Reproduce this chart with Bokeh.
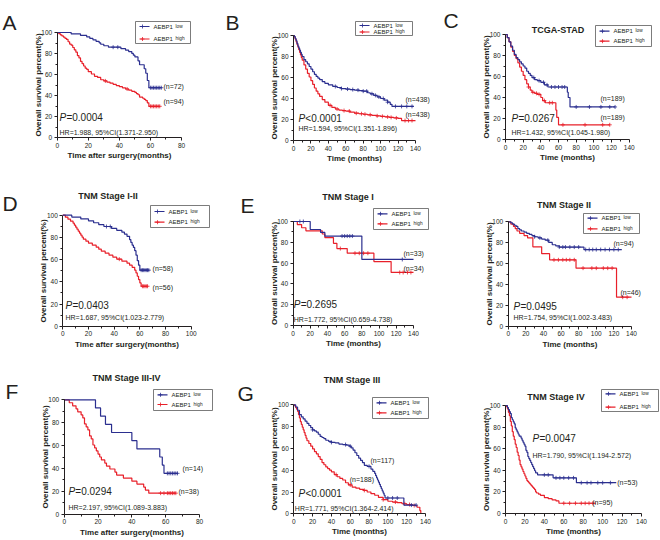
import numpy as np
from bokeh.plotting import figure
from bokeh.models import Range1d, FixedTicker, Label
from bokeh.layouts import column, row
from bokeh.embed import file_html
from bokeh.resources import INLINE

FONT = "Liberation Sans"
BLUE = "#2b2f8f"
RED = "#e8202a"
INK = "#231f20"

Y_TICKS = [0, 20, 40, 60, 80, 100]
Y_MINOR = [10, 30, 50, 70, 90]
X80 = [0, 20, 40, 60, 80]
X100 = [0, 20, 40, 60, 80, 100]
X140 = [0, 20, 40, 60, 80, 100, 120, 140]
XLAB_SURG = "Time after surgery(months)"
XLAB_TIME = "Time (months)"
YLAB = "Overall survival percent(%)"
GROUPS = ["low", "high"]

# ---------------- Panel A ----------------
A_low_t = [0, 9, 15, 19, 21, 23, 25, 27, 28, 30, 33, 41, 44, 46, 48, 49, 50, 52, 53, 56, 57, 58, 59]
A_low_s = [100, 98.6, 97.2, 95.8, 94.4, 93.0, 91.6, 90.2, 88.8, 87.4, 86.0, 84.6, 83.2, 81.8, 80.1, 78.4, 76.7, 73.0, 69.3, 65.5, 61.2, 54.3, 47.4]
A_low_end = 67
A_low_cens = [36, 39, 60, 61, 62, 63, 64, 65, 66, 67]
A_high_t = [0, 1, 2, 3, 4, 5, 6, 7, 8, 9, 10, 11, 12, 13, 14, 15, 16, 17, 18, 19, 20, 22, 24, 26, 28, 30, 32, 34, 36, 38, 40, 42, 44, 46, 48, 50, 51, 52, 53, 55, 56, 57, 58, 59]
A_high_s = [100, 98.9, 97.8, 96.7, 95.6, 94.5, 93.4, 91.2, 89.0, 87.9, 85.7, 83.5, 81.3, 78.0, 75.8, 72.5, 70.3, 68.1, 66.0, 64.9, 62.7, 60.5, 58.3, 57.2, 55.0, 53.9, 52.8, 51.7, 50.6, 49.5, 48.4, 47.3, 46.2, 45.1, 44.0, 42.9, 41.8, 40.7, 38.5, 37.4, 36.3, 35.2, 33.0, 29.7]
A_high_end = 66
A_high_cens = [31, 45, 60, 61, 62, 63, 64, 65, 66]
A_n = [72, 94]
A_p = "=0.0004"
A_hr = "HR=1.988, 95%CI(1.371-2.950)"

# ---------------- Panel B ----------------
B_low_t = [0, 1, 2, 3, 4, 5, 6, 7, 8, 9, 10, 12, 14, 16, 18, 20, 22, 24, 26, 28, 30, 33, 36, 40, 45, 50, 55, 60, 65, 70, 75, 80, 85, 88, 92, 96, 100, 104, 108, 111, 113]
B_low_s = [100, 99, 97, 95, 92.5, 90, 88, 86, 84, 82, 80, 77, 75, 73, 70.5, 68, 65.5, 63, 61, 59.5, 58, 56, 54.5, 53, 51.5, 50.5, 49.5, 49, 48.5, 48, 47.5, 47, 45.5, 44.5, 43, 41.5, 40, 38.5, 36.5, 34.5, 32.5]
B_low_end = 138
B_low_cens = [48, 55, 62, 68, 74, 80, 84, 90, 94, 98, 103, 108, 117, 124, 130, 136]
B_high_t = [0, 1, 2, 3, 4, 5, 6, 7, 8, 9, 10, 12, 14, 16, 18, 20, 22, 24, 26, 28, 30, 33, 36, 40, 44, 48, 52, 56, 60, 65, 70, 75, 80, 85, 90, 95, 100, 105, 110, 115, 120, 124]
B_high_s = [100, 98.5, 96.5, 94, 91.5, 89, 86.5, 84, 81.5, 79, 76.5, 72, 68, 64, 60.5, 57, 53.5, 50, 47, 44.5, 42, 39, 36.5, 33.5, 31.5, 30, 29, 28.5, 28, 27, 26, 25.5, 25, 24.5, 24, 23.5, 23, 22.5, 22, 21.5, 21, 19]
B_high_end = 140
B_high_cens = [42, 50, 58, 64, 72, 78, 82, 88, 96, 102, 108, 112, 118, 128, 132, 136]
B_n = [438, 438]
B_p = "<0.0001"
B_hr = "HR=1.594, 95%CI(1.351-1.896)"

# ---------------- Panel C ----------------
C_low_t = [0, 2, 4, 6, 8, 10, 12, 14, 16, 18, 20, 22, 24, 26, 28, 30, 33, 36, 40, 44, 48, 70, 71, 73]
C_low_s = [100, 97, 93, 89, 85, 81, 78, 76, 74, 72, 70, 68, 65, 63, 61, 59, 57, 56, 54.5, 52, 50, 45, 40, 31]
C_low_end = 124
C_low_cens = [32, 38, 43, 47, 52, 56, 60, 64, 67, 80, 95, 108, 118, 124]
C_high_t = [0, 2, 4, 6, 8, 10, 12, 14, 16, 18, 20, 22, 24, 26, 28, 30, 33, 36, 40, 42, 45, 57, 58, 60]
C_high_s = [100, 97, 93, 88, 84, 80, 77, 73, 69, 65, 61, 57, 53, 50, 47, 45, 44, 43, 40, 37, 35, 28, 21, 14]
C_high_end = 118
C_high_cens = [26, 31, 35, 38, 44, 50, 53, 65, 90, 110, 118]
C_n = [189, 189]
C_p = "=0.0267"
C_hr = "HR=1.432, 95%CI(1.045-1.980)"

# ---------------- Panel D (TNM I-II) ----------------
D_low_t = [0, 7, 14, 20, 24, 28, 32, 38, 42, 46, 48, 50, 52, 53, 54, 55, 56, 57, 58, 59, 60]
D_low_s = [100, 98.3, 96.6, 94.9, 93.2, 91.5, 89.8, 88.1, 86.4, 84.7, 83, 81, 78, 75.5, 73, 71, 68, 64, 59, 55, 50.5]
D_low_end = 67
D_low_cens = [34, 37, 61, 62, 63, 64, 65, 66, 67]
D_high_t = [0, 2, 4, 6, 8, 9, 10, 11, 12, 13, 14, 15, 16, 18, 20, 23, 26, 28, 30, 33, 36, 39, 42, 46, 50, 52, 54, 56, 57, 58, 59, 60, 61]
D_high_s = [100, 98.2, 96.4, 94.6, 92.8, 91, 89.2, 87.4, 85.6, 83.8, 82, 80.2, 78.4, 76.6, 74.8, 73, 71.2, 69.4, 67.6, 65.8, 64, 62.2, 60.4, 58.6, 56.8, 55, 53, 50.5, 48, 45, 42, 39, 36]
D_high_end = 66
D_high_cens = [44, 62, 63, 64, 65, 66]
D_n = [58, 56]
D_p = "=0.0403"
D_hr = "HR=1.687, 95%CI(1.023-2.779)"

# ---------------- Panel E (TNM I) ----------------
E_low_t = [0, 20, 32, 37, 80]
E_low_s = [100, 92.3, 89.5, 86, 63.5]
E_low_end = 140
E_low_cens = [8, 12, 57, 60, 63, 66, 69, 127]
E_high_t = [0, 5, 10, 15, 34, 37, 47, 51, 63, 94, 114]
E_high_s = [100, 97, 94, 91, 88, 84.5, 79, 74, 69.5, 61.5, 51]
E_high_end = 140
E_high_cens = [55, 72, 77, 82, 87, 124, 128, 133, 137]
E_n = [33, 34]
E_p = "=0.2695"
E_hr = "HR=1.772, 95%CI(0.659-4.738)"

# ---------------- Panel E2 (TNM II) ----------------
E2_low_t = [0, 3, 5, 7, 9, 11, 13, 15, 18, 21, 24, 27, 30, 34, 38, 42, 46, 50, 54, 58, 86]
E2_low_s = [100, 98.9, 97.8, 96.7, 95.6, 93.4, 92.3, 91.2, 90.1, 89, 87.9, 86.8, 85.7, 84.6, 83.5, 82.4, 80.2, 78, 76.9, 75.8, 73.4]
E2_low_end = 129
E2_low_cens = [30, 36, 45, 58, 62, 65, 70, 75, 80, 88, 92, 96, 100, 105, 110, 115, 120, 125]
E2_high_t = [0, 3, 6, 8, 10, 13, 18, 22, 28, 38, 47, 77, 123]
E2_high_s = [100, 97.8, 95.6, 93.4, 91.2, 89, 86.8, 84.6, 76, 69.5, 63.6, 55.6, 27.8]
E2_high_end = 140
E2_high_cens = [52, 57, 62, 66, 70, 75, 85, 95, 100, 108, 113, 118, 130, 135]
E2_n = [94, 46]
E2_p = "=0.0495"
E2_hr = "HR=1.754, 95%CI(1.002-3.483)"

# ---------------- Panel F (TNM III-IV) ----------------
F_low_t = [0, 18.5, 21.5, 24.4, 28, 40, 43, 56.5, 58, 59]
F_low_s = [100, 92.9, 85.7, 78.6, 71.4, 64.3, 57.1, 50, 42.9, 35.7]
F_low_end = 67
F_low_cens = [61, 62, 63, 64, 65, 66, 67]
F_high_t = [0, 3, 5, 7, 8, 10, 11, 12, 13, 14, 15, 16, 17, 18, 19, 20, 21, 22, 24, 25, 27, 30, 31, 35, 40, 43, 47, 48, 50]
F_high_s = [100, 97.4, 94.7, 92.1, 89.5, 86.8, 84.2, 78.9, 76.3, 73.7, 68.4, 65.8, 60.5, 57.9, 55.3, 52.6, 50.0, 47.4, 44.7, 42.1, 39.5, 36.8, 34.2, 31.6, 28.9, 26.3, 23.7, 21.1, 18.4]
F_high_end = 66
F_high_cens = [57, 59, 61, 62, 63, 64, 65, 66]
F_n = [14, 38]
F_p = "=0.0294"
F_hr = "HR=2.197, 95%CI(1.089-3.883)"

# ---------------- Panel G (TNM III) ----------------
G_low_t = [0, 2, 4, 6, 8, 10, 12, 14, 16, 18, 20, 22, 24, 26, 28, 30, 32, 34, 37, 40, 44, 48, 52, 56, 59, 61, 63, 65, 67, 69, 71, 73, 75, 78, 82, 84, 86, 87, 88, 89, 90, 91, 92, 93, 94, 95, 96, 97, 117]
G_low_s = [100, 98, 95, 91, 89, 87, 85, 83, 81, 79, 77, 76, 75, 73, 71, 70, 69, 67.5, 66.5, 65.5, 65, 64, 63.5, 63, 62, 60.5, 58.5, 56, 53.5, 51, 49, 47, 44.5, 43.5, 41, 39, 37, 35, 33, 31, 29, 27, 25, 23, 21, 19, 17, 14.5, 8]
G_low_end = 130
G_low_cens = [20, 40, 55, 60, 80, 100, 105, 110, 125, 130]
G_high_t = [0, 1, 2, 3, 4, 5, 6, 7, 8, 9, 10, 11, 12, 13, 14, 16, 18, 20, 22, 24, 26, 28, 30, 32, 34, 36, 38, 40, 43, 46, 49, 52, 55, 58, 62, 66, 70, 74, 78, 82, 86, 90, 95, 100, 105, 110, 115, 120, 126, 131, 134, 135]
G_high_s = [100, 99, 97.5, 96, 94, 91, 88, 84.5, 82, 79.5, 77, 74.5, 72, 69.5, 67, 64.5, 62, 59.5, 57, 55, 52.5, 50, 47, 45, 43, 41.5, 40, 38.5, 36, 34, 32.5, 31, 28.5, 26.5, 24.5, 23.5, 22.5, 21.5, 20, 18.5, 17, 15, 13, 11.5, 10.8, 10.2, 9.2, 8.5, 7.6, 6, 3, 0]
G_high_end = 135
G_high_cens = [45, 60, 75, 95, 108, 118, 123, 128]
G_n = [117, 188]
G_p = "<0.0001"
G_hr = "HR=1.771, 95%CI(1.364-2.414)"

# ---------------- Panel G2 (TNM IV) ----------------
G2_low_t = [0, 2, 3, 4, 5, 6, 7, 8, 9, 10, 11, 12, 13, 14, 16, 17, 18, 19, 20, 21, 22, 23, 24, 25, 26, 27, 28, 29, 30, 31, 33, 49, 73]
G2_low_s = [100, 98.1, 96.2, 94.3, 92.5, 88.7, 86.8, 84.9, 83, 79.2, 77.4, 75.5, 73.6, 71.7, 69.8, 67.9, 66, 64.2, 62.3, 58.5, 56.6, 52.8, 50.9, 49.1, 47.2, 45.3, 43.4, 41.5, 39.6, 37.7, 35.8, 33, 28.5]
G2_low_end = 114
G2_low_cens = [40, 44, 52, 56, 60, 65, 70, 78, 84, 88, 95, 100, 108]
G2_high_t = [0, 1, 2, 3, 4, 5, 6, 7, 8, 9, 10, 11, 12, 13, 14, 15, 16, 17, 18, 19, 20, 21, 22, 23, 24, 25, 26, 27, 28, 29, 30, 31, 32, 34, 36, 40, 44, 48, 52, 55]
G2_high_s = [100, 98.9, 96.8, 93.7, 90.5, 85.3, 81.1, 75.8, 71.6, 68.4, 64.2, 61.1, 56.8, 53.7, 49.5, 45.3, 43.2, 41.1, 38.9, 36.8, 34.7, 32.6, 30.5, 29.5, 28.4, 27.4, 26.3, 25.3, 24.2, 23.2, 22.1, 20, 19, 17.9, 16.8, 14.7, 13.7, 12.6, 11.6, 9.5]
G2_high_end = 93
G2_high_cens = [60, 66, 72, 78, 82, 86, 90]
G2_n = [53, 95]
G2_p = "=0.0047"
G2_hr = "HR=1.790, 95%CI(1.194-2.572)"


def survival_at(t, s, x):
    t = np.asarray(t, dtype=float)
    s = np.asarray(s, dtype=float)
    idx = np.searchsorted(t, np.asarray(x, dtype=float), side="right") - 1
    return s[idx]


def build(d, lay):
    ox, oy, w, h = lay["box"]
    x0, x1, y100, y0 = lay["frame"]
    xmax = d["xmax"]

    def dx(px):
        return (px - x0) / (x1 - x0) * xmax

    def dy(py):
        return (y0 - py) / (y0 - y100) * 100.0

    # frame covers the whole figure; axes are pinned at x=0 / y=0
    p = figure(width=w, height=h,
               x_range=Range1d(dx(ox), dx(ox + w)), y_range=Range1d(dy(oy + h), dy(oy)),
               output_backend="svg", toolbar_location=None, title=None,
               min_border=0, min_border_left=0, min_border_right=0,
               min_border_top=0, min_border_bottom=0,
               background_fill_color="white", border_fill_color="white")
    p.outline_line_color = None
    p.xgrid.visible = False
    p.ygrid.visible = False
    xt = d["xticks"]
    p.xaxis.ticker = FixedTicker(ticks=xt, minor_ticks=[(a + b) / 2 for a, b in zip(xt[:-1], xt[1:])])
    p.yaxis.ticker = FixedTicker(ticks=Y_TICKS, minor_ticks=Y_MINOR)
    p.xaxis.bounds = (0, xmax)
    p.yaxis.bounds = (0, 100)
    p.xaxis.fixed_location = 0
    p.yaxis.fixed_location = 0
    p.xaxis.axis_label = d["xlabel"]
    p.yaxis.axis_label = YLAB
    for ax in (p.xaxis[0], p.yaxis[0]):
        ax.axis_line_color = INK
        ax.axis_line_width = 1
        ax.major_tick_line_color = INK
        ax.major_tick_out = 3
        ax.major_tick_in = 0
        ax.minor_tick_line_color = INK
        ax.minor_tick_out = 2
        ax.minor_tick_in = 0
        ax.major_label_text_font = FONT
        ax.major_label_text_font_size = "6.5px"
        ax.major_label_text_color = INK
        ax.axis_label_text_font = FONT
        ax.axis_label_text_font_size = "8px"
        ax.axis_label_text_font_style = "bold"
        ax.axis_label_text_color = INK
    p.xaxis.major_label_standoff = 2
    p.xaxis.axis_label_standoff = 0
    p.yaxis.major_label_standoff = 2
    p.yaxis.axis_label_standoff = -4

    colors = {"low": BLUE, "high": RED}
    for key in ("high", "low"):
        t, s, end, cens = d[key]
        xs = list(t) + [end]
        ys = list(s) + [s[-1]]
        p.step(xs, ys, mode="after", line_color=colors[key], line_width=1.2)
        cy = survival_at(t, s, cens)
        p.scatter(cens, cy, marker="cross", size=4, line_color=colors[key], line_width=0.8)

    def lab(x, y, text, size, style="normal", align="left", baseline="middle", xoff=0):
        p.add_layout(Label(x=x, y=y, text=text, text_font=FONT, text_font_size=size,
                           text_font_style=style, text_align=align, text_baseline=baseline,
                           x_offset=xoff, text_color=INK))

    # legend box drawn in page pixels converted to data units
    l, t_, r, b, ry1, ry2 = lay["legend"]
    p.quad(left=[dx(l)], right=[dx(r)], top=[dy(t_)], bottom=[dy(b)],
           fill_color="white", line_color="#5a5a5a", line_width=0.8)
    for key, ry in zip(GROUPS, (ry1, ry2)):
        p.segment(x0=[dx(l + 4)], x1=[dx(l + 14)], y0=[dy(ry)], y1=[dy(ry)],
                  line_color=colors[key], line_width=1.2)
        p.scatter(x=[dx(l + 7)], y=[dy(ry)], marker="cross", size=4,
                  line_color=colors[key], line_width=0.8)
        lab(dx(l + 18), dy(ry), "AEBP1", "6px")
        lab(dx(l + 40), dy(ry - 0.3), key, "4.8px", baseline="alphabetic")

    # panel letter and title
    if lay.get("letter"):
        ch, lx, ly = lay["letter"]
        lab(dx(lx), dy(ly), ch, "21px", baseline="alphabetic")
    if d.get("title"):
        tx, ty = lay["title"]
        lab(dx(tx), dy(ty), d["title"], "9px", style="bold", align="center")

    # n labels
    (nx1, ny1), (nx2, ny2) = lay["n_pos"]
    lab(nx1, ny1, "(n=%d)" % d["n"][0], "7px")
    lab(nx2, ny2, "(n=%d)" % d["n"][1], "7px")
    # P value and HR
    px_, py_ = lay["p_pos"]
    lab(px_, py_, "P", "10px", style="italic")
    lab(px_, py_, d["p"], "10px", xoff=6.9)
    hx, hy = lay["hr_pos"]
    lab(hx, hy, d["hr"], "7px")
    return p


DATA = {
    "A": dict(xmax=80, xticks=X80, xlabel=XLAB_SURG, title=None, n=A_n, p=A_p, hr=A_hr,
              low=(A_low_t, A_low_s, A_low_end, A_low_cens), high=(A_high_t, A_high_s, A_high_end, A_high_cens)),
    "B": dict(xmax=140, xticks=X140, xlabel=XLAB_TIME, title=None, n=B_n, p=B_p, hr=B_hr,
              low=(B_low_t, B_low_s, B_low_end, B_low_cens), high=(B_high_t, B_high_s, B_high_end, B_high_cens)),
    "C": dict(xmax=140, xticks=X140, xlabel=XLAB_TIME, title="TCGA-STAD", n=C_n, p=C_p, hr=C_hr,
              low=(C_low_t, C_low_s, C_low_end, C_low_cens), high=(C_high_t, C_high_s, C_high_end, C_high_cens)),
    "D": dict(xmax=100, xticks=X100, xlabel=XLAB_SURG, title="TNM Stage I-II", n=D_n, p=D_p, hr=D_hr,
              low=(D_low_t, D_low_s, D_low_end, D_low_cens), high=(D_high_t, D_high_s, D_high_end, D_high_cens)),
    "E": dict(xmax=140, xticks=X140, xlabel=XLAB_TIME, title="TNM Stage I", n=E_n, p=E_p, hr=E_hr,
              low=(E_low_t, E_low_s, E_low_end, E_low_cens), high=(E_high_t, E_high_s, E_high_end, E_high_cens)),
    "E2": dict(xmax=140, xticks=X140, xlabel=XLAB_TIME, title="TNM Stage II", n=E2_n, p=E2_p, hr=E2_hr,
               low=(E2_low_t, E2_low_s, E2_low_end, E2_low_cens), high=(E2_high_t, E2_high_s, E2_high_end, E2_high_cens)),
    "F": dict(xmax=80, xticks=X80, xlabel=XLAB_SURG, title="TNM Stage III-IV", n=F_n, p=F_p, hr=F_hr,
              low=(F_low_t, F_low_s, F_low_end, F_low_cens), high=(F_high_t, F_high_s, F_high_end, F_high_cens)),
    "G": dict(xmax=140, xticks=X140, xlabel=XLAB_TIME, title="TNM Stage III", n=G_n, p=G_p, hr=G_hr,
              low=(G_low_t, G_low_s, G_low_end, G_low_cens), high=(G_high_t, G_high_s, G_high_end, G_high_cens)),
    "G2": dict(xmax=140, xticks=X140, xlabel=XLAB_TIME, title="TNM Stage IV", n=G2_n, p=G2_p, hr=G2_hr,
               low=(G2_low_t, G2_low_s, G2_low_end, G2_low_cens), high=(G2_high_t, G2_high_s, G2_high_end, G2_high_cens)),
}

# layout: page pixel boxes, frames (x0px, x1px, y100px, y0px) and text placement
# legend = (left, top, right, bottom, row1_y, row2_y) in page pixels
LAYOUT = {
    "A": dict(box=(0, 0, 220, 180), frame=(56.7, 181, 32, 137), letter=("A", 2, 22), title=None,
              legend=(135, 21, 190, 43, 26, 38.5), n_pos=((68.4, 48.6), (68.4, 34.3)), p_pos=(1.5, 19), hr_pos=(1.5, 4.8)),
    "B": dict(box=(220, 0, 220, 180), frame=(293, 415, 35, 140), letter=("B", 225, 21.7), title=None,
              legend=(355, 21, 412, 35, 25, 31.5), n_pos=((128.5, 39), (128.5, 24.8)), p_pos=(5.7, 21), hr_pos=(5.7, 11.4)),
    "C": dict(box=(440, 0, 220, 180), frame=(505, 628.7, 34, 139), letter=("C", 443, 20), title=(557.5, 29),
              legend=(595, 25, 651, 46, 30.7, 40.7), n_pos=((107.5, 39), (107.5, 21)), p_pos=(6.8, 20), hr_pos=(6.8, 6.4)),
    "D": dict(box=(0, 180, 220, 180), frame=(62.3, 190.7, 214.7, 325.7), letter=("D", 2, 203), title=(107.5, 195),
              legend=(150, 205, 209, 227, 211, 221.7), n_pos=((69.9, 52), (69.9, 34.9)), p_pos=(2.1, 18.6), hr_pos=(2.1, 7.8)),
    "E": dict(box=(220, 180, 220, 180), frame=(292.5, 413, 221, 325), letter=("E", 240, 205), title=(347.5, 196),
              legend=(373, 208, 428, 229, 213.3, 223.3), n_pos=((128.3, 69.5), (128.3, 55)), p_pos=(0.9, 19.9), hr_pos=(0.9, 5.8)),
    "E2": dict(box=(440, 180, 220, 180), frame=(507.7, 631, 221.3, 325.7), letter=None, title=(563.5, 204),
               legend=(583, 213, 639, 233, 217.7, 228.3), n_pos=((119.5, 79.2), (127.5, 32.3)), p_pos=(6, 18.9), hr_pos=(6, 8.3)),
    "F": dict(box=(0, 360, 220, 180), frame=(63.7, 199, 399.3, 513.7), letter=("F", 5, 390.7), title=(126, 377),
              legend=(153, 389, 212, 410, 394.3, 404), n_pos=((70, 40), (67.6, 19.8)), p_pos=(2.5, 19.8), hr_pos=(2.5, 5.9)),
    "G": dict(box=(220, 360, 220, 180), frame=(293.3, 425, 404.3, 513.3), letter=("G", 237, 393.3), title=(351.5, 379),
              legend=(372, 397, 428, 418, 402.3, 412.3), n_pos=((81.5, 48.9), (59.5, 31.2)), p_pos=(5, 18.3), hr_pos=(1.1, 4.6)),
    "G2": dict(box=(440, 360, 220, 180), frame=(505, 641, 405, 513), letter=None, title=(555.5, 396),
               legend=(601, 389, 658, 411, 393.3, 406.7), n_pos=((115, 29), (89.3, 9.9)), p_pos=(27.8, 69.4), hr_pos=(27.8, 53.7)),
}

figs = {k: build(DATA[k], LAYOUT[k]) for k in DATA}
layout = column(
    row(figs["A"], figs["B"], figs["C"]),
    row(figs["D"], figs["E"], figs["E2"]),
    row(figs["F"], figs["G"], figs["G2"]),
)

with open("out.html", "w") as f:
    f.write(file_html(layout, INLINE))
